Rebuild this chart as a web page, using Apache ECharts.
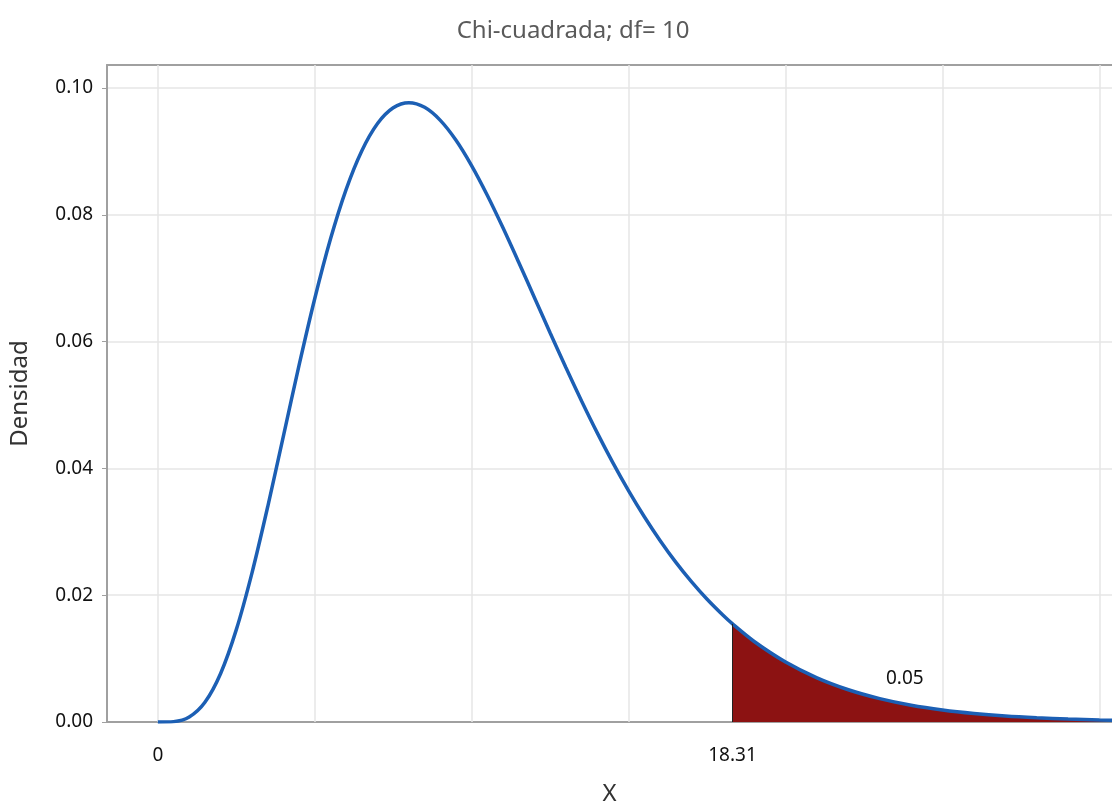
<!DOCTYPE html>
<html>
<head>
<meta charset="utf-8">
<script src="https://cdn.jsdelivr.net/npm/echarts@6/dist/echarts.min.js"></script>
<style>
  html, body { margin: 0; padding: 0; background: #fff; }
  #chart { width: 1112px; height: 812px; }
</style>
</head>
<body>
<div id="chart"></div>
<script>
// density curve
const xs = [0, 0.5, 1, 1.5, 2, 2.5, 3, 3.5, 4, 4.5, 5, 5.5, 6, 6.5, 7, 7.5, 8, 8.5, 9, 9.5,
            10, 10.5, 11, 11.5, 12, 12.5, 13, 13.5, 14, 14.5, 15, 15.5, 16, 16.5, 17, 17.5, 18,
            18.31, 19, 20, 21, 22, 23, 24, 25, 26, 27, 28, 29, 30, 31];
const dens = [0, 0.00006, 0.00079, 0.00311, 0.00766, 0.01457, 0.02353, 0.03395, 0.04511, 0.05628,
              0.06680, 0.07617, 0.08402, 0.09012, 0.09441, 0.09689, 0.09769, 0.09695, 0.09490, 0.09176,
              0.08773, 0.08305, 0.07791, 0.07248, 0.06693, 0.06137, 0.05591, 0.05064, 0.04561, 0.04088,
              0.03646, 0.03237, 0.02863, 0.02521, 0.02213, 0.01935, 0.01687,
              0.01547, 0.01270, 0.00946, 0.00697, 0.00509, 0.00369, 0.00265, 0.00190, 0.00135,
              0.00095, 0.00067, 0.00046, 0.00032, 0.00022];
const critX = 18.31;
const tailArea = "0.05";
const tailLabelAt = [23.8, 0.0068];
const gridX = [0, 5, 10, 15, 20, 25, 30];
const xLabels = [0, 18.31];

const curve = xs.map((x, i) => [x, dens[i]]);
const tail = curve.filter(p => p[0] >= critX);
const critY = dens[xs.indexOf(critX)];

const chart = echarts.init(document.getElementById('chart'));
const font = 'Noto Sans';

chart.setOption({
    animation: false,
    title: {
        text: 'Chi-cuadrada; df= 10',
        left: 568,
        textAlign: 'center',
        top: 14,
        textStyle: { fontFamily: font, fontSize: 24, fontWeight: 'normal', color: '#5a5a5a' }
    },
    grid: { left: 105, top: 65, right: 0, bottom: 90 },
    xAxis: [{
        type: 'value',
        min: -1.62,
        max: 30.4,
        name: 'X',
        nameLocation: 'middle',
        nameGap: 60,
        nameTextStyle: { fontFamily: font, fontSize: 24, color: '#333' },
        axisLine: { show: true, lineStyle: { color: '#a0a0a0', width: 2 } },
        axisTick: { show: false },
        splitLine: { show: false },
        axisLabel: {
            customValues: xLabels,
            margin: 24,
            fontFamily: font, fontSize: 19, color: '#111',
            formatter: v => String(v)
        }
    }, {
        type: 'value',
        position: 'top',
        min: -1.62,
        max: 30.4,
        axisLine: { show: true, lineStyle: { color: '#a0a0a0', width: 2 } },
        axisTick: { show: false },
        axisLabel: { show: false },
        splitLine: { show: false }
    }],
    yAxis: {
        type: 'value',
        min: 0,
        max: 0.10363,
        interval: 0.02,
        name: 'Densidad',
        nameLocation: 'middle',
        nameGap: 75,
        nameTextStyle: { fontFamily: font, fontSize: 24, color: '#333' },
        axisLine: { show: true, onZero: false, lineStyle: { color: '#a0a0a0', width: 2 } },
        axisTick: { show: true, length: 5, lineStyle: { color: '#a0a0a0' } },
        splitLine: { show: true, lineStyle: { color: '#e6e6e6', width: 1.5 } },
        axisLabel: {
            showMaxLabel: false,
            margin: 14,
            fontFamily: font, fontSize: 19, color: '#111',
            formatter: v => v.toFixed(2)
        }
    },
    series: [{
        type: 'line',
        data: tail,
        smooth: 0.3,
        symbol: 'none',
        lineStyle: { width: 0 },
        areaStyle: { color: '#8c1212', opacity: 1 },
        z: 2,
        markLine: {
            silent: true,
            symbol: 'none',
            label: { show: false },
            lineStyle: { color: '#222', width: 1, type: 'solid' },
            data: [[{ coord: [critX, 0] }, { coord: [critX, critY] }]]
        }
    }, {
        type: 'line',
        data: curve,
        smooth: 0.3,
        symbol: 'none',
        lineStyle: { color: '#1c5fb4', width: 3.5 },
        z: 3,
        markLine: {
            silent: true,
            symbol: 'none',
            label: { show: false },
            lineStyle: { color: '#e6e6e6', width: 1.5, type: 'solid' },
            z: 1,
            data: gridX.map(x => ({ xAxis: x }))
        },
        markPoint: {
            symbol: 'circle',
            symbolSize: 0,
            label: {
                show: true,
                formatter: tailArea,
                fontFamily: font, fontSize: 19, color: '#111'
            },
            data: [{ coord: tailLabelAt }]
        }
    }]
});
</script>
</body>
</html>
